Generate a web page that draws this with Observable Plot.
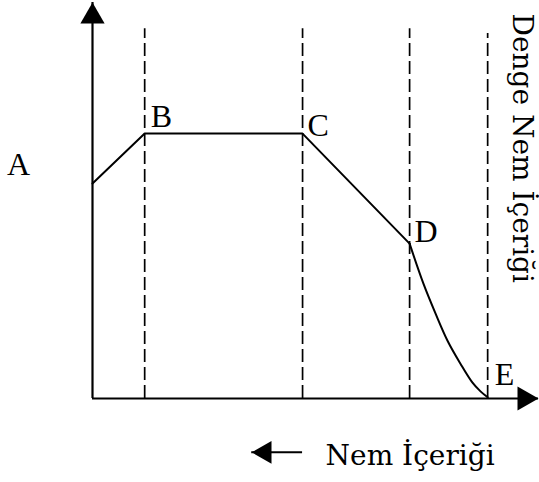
<!DOCTYPE html>
<html>
<head>
<meta charset="utf-8">
<script src="https://cdn.jsdelivr.net/npm/d3@7"></script>
<script src="https://cdn.jsdelivr.net/npm/@observablehq/plot@0.6"></script>
<style>
  body { margin: 0; background: #fff; }
  #chart svg { display: block; }
</style>
</head>
<body>
<div id="chart"></div>
<script>
// ---- data (moisture content on x, drying rate on y, arbitrary units 0..100) ----
const stageNames = ["A", "B", "C", "D"];
const stageMoisture = [0, 11.7, 47.1, 71.1];
const stageRate = [54.3, 66.9, 66.9, 39.1];

// falling-rate curve D -> E
const fallingMoisture = [71.1, 74.2, 76.9, 79.6, 82.5, 85.2, 87.0, 88.6];
const fallingRate = [39.1, 29.0, 21.5, 14.6, 8.8, 4.0, 1.8, 0.3];

// dashed boundaries at B, C, D and equilibrium moisture (E)
const boundaryMoisture = [11.7, 47.1, 71.1, 88.6];
const boundaryTop = [93.4, 93.4, 93.4, 92.2];

// point labels
const labelNames = ["A", "B", "C", "D", "E"];
const labelMoisture = [0, 11.7, 47.1, 71.1, 88.6];
const labelRate = [54.3, 66.9, 66.9, 39.1, 0];

// legend arrow for "Nem İçeriği" (direction of decreasing moisture)
const legendArrowMoisture = [35.7, 47.1];
const legendArrowRate = -13.6;

const axisMax = 100;
const equilibriumText = "Denge Nem İçeriği";
const moistureText = "Nem İçeriği";

// ---- tables built from arrays ----
const stages = stageNames.map((n, i) => ({n, x: stageMoisture[i], y: stageRate[i]}));
const falling = fallingMoisture.map((x, i) => ({x, y: fallingRate[i]}));
const boundaries = boundaryMoisture.map((x, i) => ({x, top: boundaryTop[i]}));
const labels = labelNames.map((n, i) => ({n, x: labelMoisture[i], y: labelRate[i]}));

// pixel offsets for each letter label
const labelOffsets = {
  A: {dx: -74, dy: -8, anchor: "middle"},
  B: {dx: 6, dy: -7, anchor: "start"},
  C: {dx: 5, dy: 2, anchor: "start"},
  D: {dx: 5, dy: -2, anchor: "start"},
  E: {dx: 7, dy: -14, anchor: "start"}
};

const serif = "'Liberation Serif', 'Times New Roman', serif";
const wideSerif = "'DejaVu Serif', serif";

const chart = Plot.plot({
  width: 539,
  height: 482,
  marginLeft: 92,
  marginRight: 1,
  marginTop: 2,
  marginBottom: 84,
  x: {domain: [0, axisMax], axis: null},
  y: {domain: [0, axisMax], axis: null},
  style: {background: "#fff", color: "#000", overflow: "visible"},
  marks: [
    // dashed boundaries
    Plot.ruleX(boundaries, {x: "x", y1: 0, y2: "top", stroke: "#000", strokeWidth: 1.7, strokeDasharray: "13,5"}),
    // axes
    Plot.ruleX([0], {y1: 0, y2: axisMax, stroke: "#000", strokeWidth: 2.2}),
    Plot.ruleY([0], {x1: 0, x2: axisMax, stroke: "#000", strokeWidth: 2.2}),
    Plot.dot([{x: 0, y: axisMax}], {x: "x", y: "y", symbol: "triangle", r: 9, fill: "#000", stroke: null, dy: 14}),
    Plot.dot([{x: axisMax, y: 0}], {x: "x", y: "y", symbol: "triangle", r: 9, rotate: 90, fill: "#000", stroke: null, dx: -14}),
    // drying curve
    Plot.line(stages, {x: "x", y: "y", stroke: "#000", strokeWidth: 2}),
    Plot.line(falling, {x: "x", y: "y", stroke: "#000", strokeWidth: 2, curve: "catmull-rom"}),
    // letter labels
    ...labels.map(d => Plot.text([d], {
      x: "x", y: "y", text: "n",
      dx: labelOffsets[d.n].dx, dy: labelOffsets[d.n].dy,
      textAnchor: labelOffsets[d.n].anchor, lineAnchor: "bottom",
      fontFamily: serif, fontSize: 32, fill: "#000"
    })),
    // equilibrium moisture label (rotated)
    Plot.text([equilibriumText], {
      frameAnchor: "top-right", text: d => d, rotate: 90,
      textAnchor: "start", lineAnchor: "bottom",
      dx: -26, dy: 11,
      fontFamily: wideSerif, fontSize: 28, fill: "#000"
    }),
    // moisture content legend with arrow
    Plot.ruleY([legendArrowRate], {x1: legendArrowMoisture[0], x2: legendArrowMoisture[1], stroke: "#000", strokeWidth: 2}),
    Plot.dot([{x: legendArrowMoisture[0], y: legendArrowRate}], {x: "x", y: "y", symbol: "triangle", r: 8.5, rotate: -90, fill: "#000", stroke: null, dx: 13.2}),
    Plot.text([{x: legendArrowMoisture[1], y: legendArrowRate, t: moistureText}], {
      x: "x", y: "y", text: "t", textAnchor: "start", lineAnchor: "bottom",
      dx: 23, dy: 13,
      fontFamily: wideSerif, fontSize: 28, fill: "#000"
    })
  ]
});

document.getElementById("chart").appendChild(chart);
</script>
</body>
</html>
